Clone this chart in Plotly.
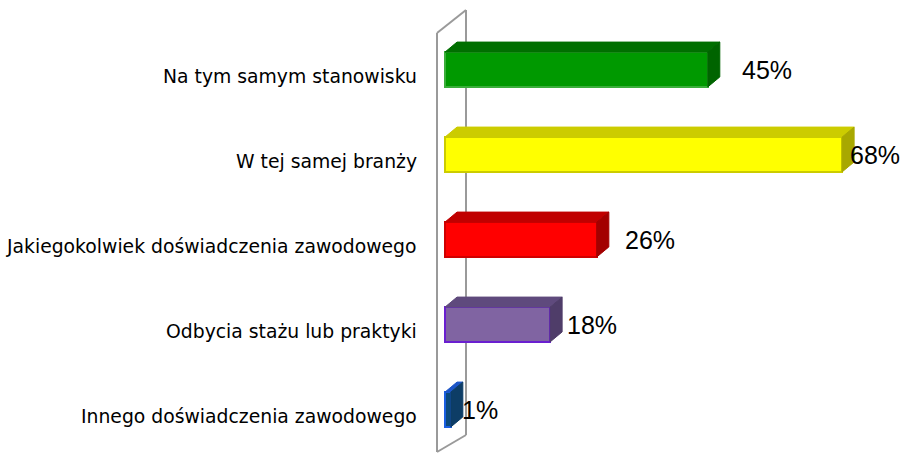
import plotly.graph_objects as go

# ---- data ----
categories = [
    "Na tym samym stanowisku",
    "W tej samej branży",
    "Jakiegokolwiek doświadczenia zawodowego",
    "Odbycia stażu lub praktyki",
    "Innego doświadczenia zawodowego",
]
values = [45, 68, 26, 18, 1]
value_labels = ["45%", "68%", "26%", "18%", "1%"]

# ---- styles ----
front_colors = ["#009900", "#ffff00", "#ff0000", "#8064a2", "#0b4a7c"]
edge_colors = ["#3aae3a", "#cccc00", "#d00000", "#6a1fd0", "#1a5ee0"]
top_colors = ["#006f00", "#cccc00", "#c00000", "#5f4a7d", "#1d56c8"]
side_colors = ["#006400", "#a8a800", "#a30000", "#4f3d69", "#0d3d66"]
label_dx = [59, 33, 53, 42, 29]  # px offset of value-label centre from bar end

W, H = 904, 454
PX_X0 = 445.0      # pixel of value 0
PX_PER_UNIT = 5.84
PX_Y0 = 69.5       # pixel of first category centre
PX_PER_CAT = 85.0
PLOT_LEFT = 425

def dx(px):
    return px / PX_PER_UNIT

def dy(px):
    return px / PX_PER_CAT

x_range = [(PLOT_LEFT - PX_X0) / PX_PER_UNIT, (W - PX_X0) / PX_PER_UNIT]
y_range = [(H - PX_Y0) / PX_PER_CAT, (0 - PX_Y0) / PX_PER_CAT]

bar_w = 0.41
depth_x = dx(12)
depth_y = dy(10)
ypos = list(range(len(categories)))

fig = go.Figure()

# 3D top and side faces
for i, v in enumerate(values):
    top = ypos[i] - bar_w / 2
    bot = ypos[i] + bar_w / 2
    fig.add_trace(go.Scatter(
        x=[0, v, v + depth_x, depth_x, 0],
        y=[top, top, top - depth_y, top - depth_y, top],
        fill="toself", fillcolor=top_colors[i], mode="lines",
        line=dict(color=top_colors[i], width=1), hoverinfo="skip", showlegend=False))
    fig.add_trace(go.Scatter(
        x=[v, v + depth_x, v + depth_x, v, v],
        y=[top, top - depth_y, bot - depth_y, bot, top],
        fill="toself", fillcolor=side_colors[i], mode="lines",
        line=dict(color=side_colors[i], width=1), hoverinfo="skip", showlegend=False))

# front faces
fig.add_trace(go.Bar(
    x=values, y=ypos, orientation="h", width=bar_w,
    marker=dict(color=front_colors, line=dict(color=edge_colors, width=2)),
    hoverinfo="skip", showlegend=False))

# value labels
for i, v in enumerate(values):
    fig.add_annotation(
        x=v, y=ypos[i], xref="x", yref="y", text=value_labels[i],
        showarrow=False, xanchor="center", yanchor="middle", xshift=label_dx[i],
        font=dict(family="Liberation Sans, Arial, sans-serif", size=25, color="#000000"))

# category labels
for i, c in enumerate(categories):
    fig.add_annotation(
        x=(419 - PLOT_LEFT) / (W - PLOT_LEFT), y=ypos[i], xref="paper", yref="y",
        text=c, showarrow=False, xanchor="right", yanchor="middle", yshift=-7,
        font=dict(family="DejaVu Sans, Tahoma, sans-serif", size=18.8, color="#000000"))

# wall (3D axis plane)
wf, wb = dx(437 - PX_X0), dx(466 - PX_X0)
wall_top_f, wall_top_b = dy(33 - PX_Y0), dy(10 - PX_Y0)
wall_bot_f, wall_bot_b = dy(452 - PX_Y0), dy(435 - PX_Y0)
wall_line = dict(color="#9a9a9a", width=2)
for (x0, y0, x1, y1) in [
    (wf, wall_top_f, wf, wall_bot_f),
    (wb, wall_top_b, wb, wall_bot_b),
    (wf, wall_top_f, wb, wall_top_b),
    (wf, wall_bot_f, wb, wall_bot_b),
]:
    fig.add_shape(type="line", x0=x0, y0=y0, x1=x1, y1=y1, xref="x", yref="y",
                  line=wall_line, layer="below")

fig.update_layout(
    width=W, height=H,
    margin=dict(l=PLOT_LEFT, r=0, t=0, b=0),
    paper_bgcolor="white", plot_bgcolor="white",
    xaxis=dict(range=x_range, visible=False, fixedrange=True),
    yaxis=dict(range=y_range, visible=False, fixedrange=True),
    bargap=0,
)

fig.write_html("out.html", config={"displayModeBar": False},
               post_script="document.body.style.margin='0';document.body.style.overflow='hidden';")
